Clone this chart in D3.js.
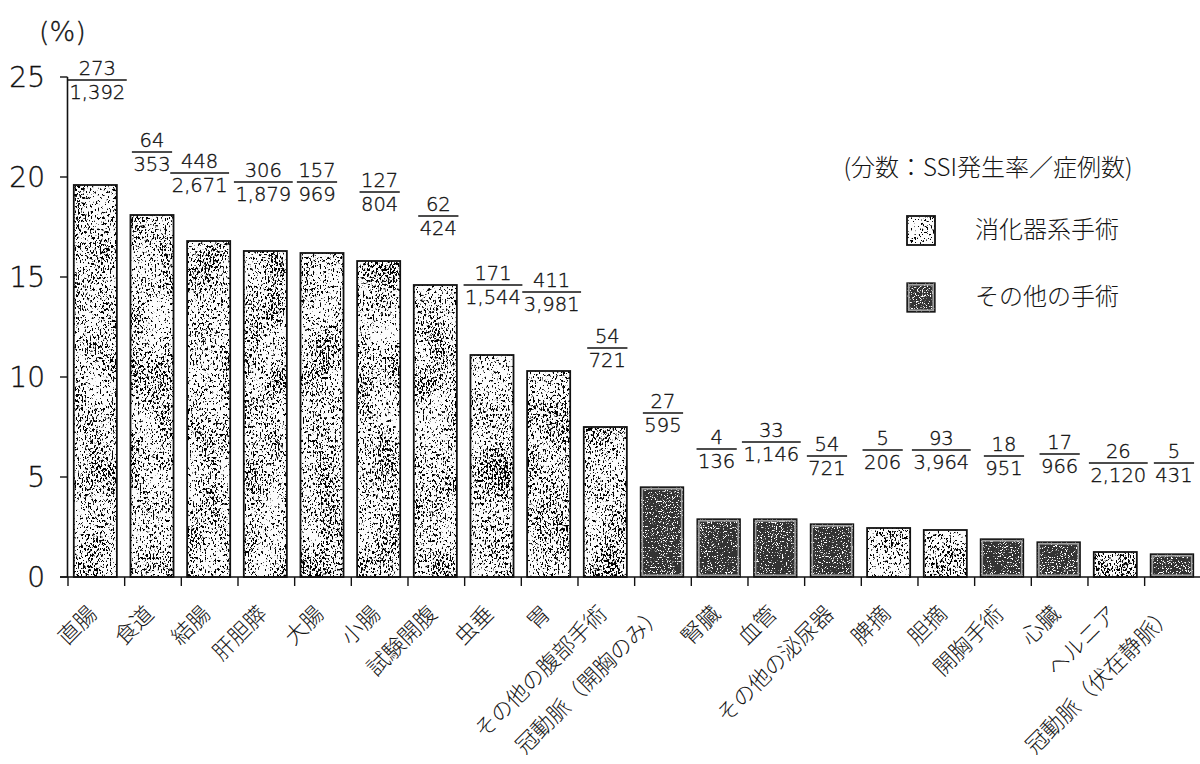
<!DOCTYPE html>
<html lang="ja">
<head>
<meta charset="utf-8">
<script src="https://cdn.jsdelivr.net/npm/d3@7/dist/d3.min.js"></script>
<style>
  html, body { margin: 0; padding: 0; background: #fff; }
  svg { display: block; }
  .num { font-family: "DejaVu Sans", sans-serif; font-weight: 200; fill: #111; stroke: #111; stroke-width: 0.35; }
  .jp { font-family: "Noto Sans CJK JP", sans-serif; font-weight: 300; fill: #151515; }
</style>
</head>
<body>
<svg id="chart" width="1200" height="764"></svg>
<script>
// 手術部位別 SSI 発生率（%）
const categories = ["直腸", "食道", "結腸", "肝胆膵", "大腸", "小腸", "試験開腹", "虫垂", "胃",
  "その他の腹部手術", "冠動脈（開胸のみ）", "腎臓", "血管", "その他の泌尿器", "脾摘", "胆摘",
  "開胸手術", "心臓", "ヘルニア", "冠動脈（伏在静脈）"];
const groupOf = ["消化器系手術", "消化器系手術", "消化器系手術", "消化器系手術", "消化器系手術",
  "消化器系手術", "消化器系手術", "消化器系手術", "消化器系手術", "消化器系手術",
  "その他の手術", "その他の手術", "その他の手術", "その他の手術", "消化器系手術", "消化器系手術",
  "その他の手術", "その他の手術", "消化器系手術", "その他の手術"];
const ssiCases = [273, 64, 448, 306, 157, 127, 62, 171, 411, 54, 27, 4, 33, 54, 5, 93, 18, 17, 26, 5];
const totalCases = [1392, 353, 2671, 1879, 969, 804, 424, 1544, 3981, 721, 595, 136, 1146, 721, 206, 3964, 951, 966, 2120, 431];
const rates = [19.6, 18.1, 16.8, 16.3, 16.2, 15.8, 14.6, 11.1, 10.3, 7.5, 4.5, 2.9, 2.9, 2.65, 2.45, 2.35, 1.9, 1.75, 1.25, 1.15];
const yTicks = [0, 5, 10, 15, 20, 25];
const legendItems = ["消化器系手術", "その他の手術"];
const legendTitle = "(分数：SSI発生率／症例数)";
const unitLabel = "(%)";

// heights (in %) at which each fraction bar is set
const fractionLevel = [24.85, 21.25, 20.2, 19.75, 19.75, 19.25, 18.05, 14.6, 14.25, 11.45,
  8.2, 6.4, 6.75, 6.05, 6.35, 6.35, 6.05, 6.15, 5.7, 5.7];
const fractionShift = [2, 0, -9, -2, -5, 1, 3, 1, 3, 2, 1, -2, -4, -5, -6, -4, 2, 1, 3, 2];

const rows = categories.map((c, i) => ({
  name: c, group: groupOf[i], rate: rates[i], n: ssiCases[i], total: totalCases[i],
  level: fractionLevel[i], shift: fractionShift[i]
}));

const svg = d3.select("#chart");
const x = d3.scaleBand().domain(categories).range([67, 1200.3]).paddingInner(0).paddingOuter(0);
const y = d3.scaleLinear().domain([0, 25]).range([577, 77]);
const barW = x.bandwidth() * 0.76;
const fmt = d3.format(",");

// stipple textures for the two bar fills
const defs = svg.append("defs");
function stipple(id, freq, seed, ink, patchy, slope, cut) {
  const f = defs.append("filter").attr("id", id)
    .attr("filterUnits", "userSpaceOnUse").attr("x", 0).attr("y", 0).attr("width", 1200).attr("height", 764);
  f.append("feTurbulence").attr("type", "fractalNoise").attr("baseFrequency", freq)
    .attr("numOctaves", 3).attr("seed", seed).attr("result", "fine");
  f.append("feColorMatrix").attr("in", "fine").attr("type", "matrix")
    .attr("values", "0 0 0 0 0  0 0 0 0 0  0 0 0 0 0  1 0 0 0 0").attr("result", "fineA");
  f.append("feTurbulence").attr("type", "fractalNoise").attr("baseFrequency", "0.035 0.02")
    .attr("numOctaves", 2).attr("seed", seed + 3).attr("result", "coarse");
  f.append("feColorMatrix").attr("in", "coarse").attr("type", "matrix")
    .attr("values", "0 0 0 0 0  0 0 0 0 0  0 0 0 0 0  0 1 0 0 0").attr("result", "coarseA");
  f.append("feComposite").attr("in", "fineA").attr("in2", "coarseA").attr("operator", "arithmetic")
    .attr("k1", 0).attr("k2", 1).attr("k3", patchy).attr("k4", 0).attr("result", "mix");
  f.append("feColorMatrix").attr("in", "mix").attr("type", "matrix")
    .attr("values", `0 0 0 0 ${ink}  0 0 0 0 ${ink}  0 0 0 0 ${ink}  0 0 0 ${slope} ${-cut}`).attr("result", "dots");
  f.append("feComposite").attr("in", "dots").attr("in2", "SourceGraphic").attr("operator", "in");
}
stipple("stippleLight", "0.6 0.35", 11, 0, 0.3, 14, 10.0);
stipple("stippleDark", "0.8", 5, 1, 0.1, 14, 9.1);

function drawBox(g, x0, y0, w, h, group) {
  if (group === "消化器系手術") {
    g.append("rect").attr("x", x0).attr("y", y0).attr("width", w).attr("height", h).attr("fill", "#fcfcfc");
    g.append("rect").attr("x", x0).attr("y", y0).attr("width", w).attr("height", h)
      .attr("fill", "#000").attr("filter", "url(#stippleLight)");
    g.append("rect").attr("x", x0).attr("y", y0).attr("width", w).attr("height", h)
      .attr("fill", "none").attr("stroke", "#111").attr("stroke-width", 1.8);
  } else {
    g.append("rect").attr("x", x0).attr("y", y0).attr("width", w).attr("height", h).attr("fill", "#333");
    g.append("rect").attr("x", x0).attr("y", y0).attr("width", w).attr("height", h)
      .attr("fill", "#000").attr("filter", "url(#stippleDark)");
    g.append("rect").attr("x", x0 + 1.8).attr("y", y0 + 1.8).attr("width", w - 3.6).attr("height", Math.max(0, h - 3.6))
      .attr("fill", "none").attr("stroke", "#a0a0a0").attr("stroke-width", 1.6);
    g.append("rect").attr("x", x0).attr("y", y0).attr("width", w).attr("height", h)
      .attr("fill", "none").attr("stroke", "#111").attr("stroke-width", 1.3);
  }
}

// bars
const barG = svg.append("g");
rows.forEach(d => {
  const cx = x(d.name) + x.bandwidth() / 2;
  drawBox(barG.append("g"), cx - barW / 2, y(d.rate), barW, y(0) - y(d.rate), d.group);
});

// y axis
const yAxisX = 67.5;
svg.append("line").attr("x1", yAxisX).attr("x2", yAxisX).attr("y1", y(25)).attr("y2", y(0))
  .attr("stroke", "#111").attr("stroke-width", 1.6);
const yt = svg.append("g").selectAll("g").data(yTicks).join("g")
  .attr("transform", d => `translate(0,${y(d)})`);
yt.append("line").attr("x1", 60).attr("x2", yAxisX).attr("stroke", "#111").attr("stroke-width", 1.4);
yt.append("text").attr("class", "num").attr("x", 45).attr("dy", "0.36em").attr("text-anchor", "end")
  .attr("font-size", 28).text(d => d);

svg.append("text").attr("class", "num").attr("x", 39).attr("y", 41).attr("font-size", 27).text(unitLabel);

// x axis with ticks between categories
svg.append("line").attr("x1", 60).attr("x2", 1200).attr("y1", y(0)).attr("y2", y(0))
  .attr("stroke", "#111").attr("stroke-width", 1.6);
svg.append("g").selectAll("line").data(categories).join("line")
  .attr("x1", d => x(d) + 1).attr("x2", d => x(d) + 1)
  .attr("y1", y(0)).attr("y2", y(0) + 9)
  .attr("stroke", "#111").attr("stroke-width", 1.4);

// category labels, rotated
svg.append("g").selectAll("text").data(rows).join("text")
  .attr("class", "jp").attr("font-size", 22)
  .attr("text-anchor", "end").attr("dominant-baseline", "central")
  .attr("transform", d => `translate(${x(d.name) + x.bandwidth() / 2 - 4},${y(0) + 31}) rotate(-45)`)
  .text(d => d.name);

// fractions: SSI cases over total cases
const fr = svg.append("g").selectAll("g").data(rows).join("g")
  .attr("transform", d => `translate(${x(d.name) + x.bandwidth() / 2 + d.shift},${y(d.level)})`);
fr.append("text").attr("class", "num").attr("font-size", 19.5).attr("text-anchor", "middle")
  .attr("y", -5).text(d => fmt(d.n));
fr.append("text").attr("class", "num").attr("font-size", 19.5).attr("text-anchor", "middle")
  .attr("y", 19).text(d => fmt(d.total));
fr.each(function () {
  const g = d3.select(this);
  const w = d3.max(g.selectAll("text").nodes(), n => n.getComputedTextLength()) + 3;
  g.append("line").attr("x1", -w / 2).attr("x2", w / 2).attr("stroke", "#111").attr("stroke-width", 1.4);
});

// legend
const lg = svg.append("g");
lg.append("text").attr("class", "jp").attr("x", 988).attr("y", 168).attr("dy", "0.35em")
  .attr("text-anchor", "middle").attr("font-size", 24).text(legendTitle);
legendItems.forEach((name, i) => {
  const ly = 230 + i * 67;
  drawBox(lg.append("g"), 907, ly - 14, 28, 29, name);
  lg.append("text").attr("class", "jp").attr("x", 975).attr("y", ly).attr("dy", "0.35em")
    .attr("font-size", 24).text(name);
});
</script>
</body>
</html>
